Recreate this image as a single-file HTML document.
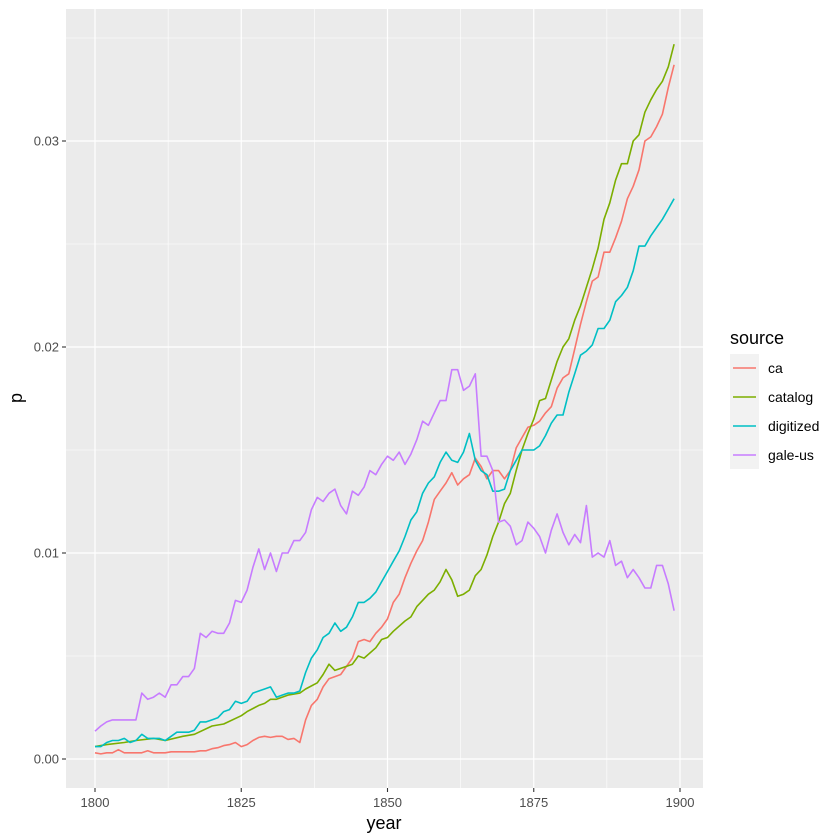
<!DOCTYPE html>
<html><head><meta charset="utf-8"><style>
body{margin:0;background:#fff;font-family:"Liberation Sans",sans-serif}
svg{display:block}
</style></head><body>
<svg id="chart" width="840" height="840" xmlns="http://www.w3.org/2000/svg">
<rect x="0" y="0" width="840" height="840" fill="#fff"/>
<rect x="66" y="9" width="637" height="779" fill="#ebebeb"/>
<g id="grid"></g><g id="series"></g><g id="axes"></g>
<text x="384" y="829" font-size="18" text-anchor="middle" fill="#000">year</text>
<text transform="translate(22,398) rotate(-90)" font-size="18" text-anchor="middle" fill="#000">p</text>
<g>
<text x="730" y="344" font-size="18" fill="#000">source</text>
<rect x="730" y="354" width="29" height="115" fill="#f2f2f2"/>
<g id="legend"></g>
</g>
</svg>
<script>
const xTicks=[1800,1825,1850,1875,1900];
const yTicks=[0,0.01,0.02,0.03];
const yTickLabels=["0.00","0.01","0.02","0.03"];
const seriesNames=["ca","catalog","digitized","gale-us"];
const seriesColors=["#F8766D","#7CAE00","#00BFC4","#C77CFF"];
const caYears=[1800,1801,1802,1803,1804,1805,1806,1807,1808,1809,1810,1811,1812,1813,1814,1815,1816,1817,1818,1819,1820,1821,1822,1823,1824,1825,1826,1827,1828,1829,1830,1831,1832,1833,1834,1835,1836,1837,1838,1839,1840,1841,1842,1843,1844,1845,1846,1847,1848,1849,1850,1851,1852,1853,1854,1855,1856,1857,1858,1859,1860,1861,1862,1863,1864,1865,1866,1867,1868,1869,1870,1871,1872,1873,1874,1875,1876,1877,1878,1879,1880,1881,1882,1883,1884,1885,1886,1887,1888,1889,1890,1891,1892,1893,1894,1895,1896,1897,1898,1899];
const caVals=[0.0003,0.00025,0.0003,0.0003,0.00045,0.0003,0.0003,0.0003,0.0003,0.0004,0.0003,0.0003,0.0003,0.00035,0.00035,0.00035,0.00035,0.00035,0.0004,0.0004,0.0005,0.00055,0.00065,0.0007,0.0008,0.0006,0.0007,0.0009,0.00105,0.0011,0.00105,0.0011,0.0011,0.00095,0.001,0.0008,0.0019,0.0026,0.0029,0.0035,0.0039,0.004,0.0041,0.0045,0.0049,0.0057,0.0058,0.0057,0.0061,0.0064,0.0068,0.0076,0.008,0.0088,0.0095,0.0101,0.0106,0.0115,0.0126,0.013,0.0134,0.0139,0.0133,0.0136,0.0138,0.0146,0.0142,0.0136,0.014,0.014,0.0136,0.014,0.0151,0.0156,0.0161,0.0162,0.0164,0.0168,0.0171,0.018,0.0185,0.0187,0.0199,0.0211,0.0222,0.0232,0.0234,0.0246,0.0246,0.0253,0.0261,0.0272,0.0278,0.0286,0.03,0.0302,0.0307,0.0313,0.0326,0.0337];
const catalogYears=[1800,1802,1805,1807,1810,1812,1815,1817,1820,1822,1825,1826,1828,1829,1830,1831,1833,1835,1836,1838,1839,1840,1841,1842,1844,1845,1846,1848,1849,1850,1851,1853,1854,1855,1856,1857,1858,1859,1860,1861,1862,1863,1864,1865,1866,1867,1868,1869,1870,1871,1872,1873,1874,1875,1876,1877,1878,1879,1880,1881,1882,1883,1884,1885,1886,1887,1888,1889,1890,1891,1892,1893,1894,1895,1896,1897,1898,1899];
const catalogVals=[0.0006,0.0007,0.0008,0.0009,0.001,0.0009,0.0011,0.0012,0.0016,0.0017,0.0021,0.0023,0.0026,0.0027,0.0029,0.0029,0.0031,0.0032,0.0034,0.0037,0.0041,0.0046,0.0043,0.0044,0.0046,0.005,0.0049,0.0054,0.0058,0.0059,0.0062,0.0067,0.0069,0.0074,0.0077,0.008,0.0082,0.0086,0.0092,0.0087,0.0079,0.008,0.0082,0.0089,0.0092,0.0099,0.0108,0.0115,0.0124,0.0129,0.014,0.015,0.0158,0.0165,0.0174,0.0175,0.0184,0.0193,0.02,0.0204,0.0213,0.022,0.0229,0.0238,0.0248,0.0262,0.027,0.0281,0.0289,0.0289,0.03,0.0303,0.0314,0.032,0.0325,0.0329,0.0336,0.0347];
const digitizedYears=[1800,1801,1802,1803,1804,1805,1806,1807,1808,1809,1810,1811,1812,1813,1814,1815,1816,1817,1818,1819,1820,1821,1822,1823,1824,1825,1826,1827,1828,1829,1830,1831,1832,1833,1834,1835,1836,1837,1838,1839,1840,1841,1842,1843,1844,1845,1846,1847,1848,1849,1850,1851,1852,1853,1854,1855,1856,1857,1858,1859,1860,1861,1862,1863,1864,1865,1866,1867,1868,1869,1870,1871,1872,1873,1874,1875,1876,1877,1878,1879,1880,1881,1882,1883,1884,1885,1886,1887,1888,1889,1890,1891,1892,1893,1894,1895,1896,1897,1898,1899];
const digitizedVals=[0.0006,0.0006,0.0008,0.0009,0.0009,0.001,0.0008,0.0009,0.0012,0.001,0.001,0.001,0.0009,0.0011,0.0013,0.0013,0.0013,0.0014,0.0018,0.0018,0.0019,0.002,0.0023,0.0024,0.0028,0.0027,0.0028,0.0032,0.0033,0.0034,0.0035,0.003,0.0031,0.0032,0.0032,0.0033,0.0042,0.0049,0.0053,0.0059,0.0061,0.0066,0.0062,0.0064,0.0069,0.0076,0.0076,0.0078,0.0081,0.0086,0.0091,0.0096,0.0101,0.0108,0.0116,0.012,0.0129,0.0134,0.0137,0.0144,0.0149,0.0145,0.0144,0.0149,0.0158,0.0145,0.014,0.0138,0.013,0.013,0.0131,0.014,0.0145,0.015,0.015,0.015,0.0152,0.0157,0.0163,0.0167,0.0167,0.0178,0.0187,0.0196,0.0198,0.0201,0.0209,0.0209,0.0213,0.0222,0.0225,0.0229,0.0237,0.0249,0.0249,0.0254,0.0258,0.0262,0.0267,0.0272];
const galeYears=[1800,1801,1802,1803,1804,1805,1806,1807,1808,1809,1810,1811,1812,1813,1814,1815,1816,1817,1818,1819,1820,1821,1822,1823,1824,1825,1826,1827,1828,1829,1830,1831,1832,1833,1834,1835,1836,1837,1838,1839,1840,1841,1842,1843,1844,1845,1846,1847,1848,1849,1850,1851,1852,1853,1854,1855,1856,1857,1858,1859,1860,1861,1862,1863,1864,1865,1866,1867,1868,1869,1870,1871,1872,1873,1874,1875,1876,1877,1878,1879,1880,1881,1882,1883,1884,1885,1886,1887,1888,1889,1890,1891,1892,1893,1894,1895,1896,1897,1898,1899];
const galeVals=[0.00135,0.0016,0.0018,0.0019,0.0019,0.0019,0.0019,0.0019,0.0032,0.0029,0.003,0.0032,0.003,0.0036,0.0036,0.004,0.004,0.0044,0.0061,0.0059,0.0062,0.0061,0.0061,0.0066,0.0077,0.0076,0.0082,0.0093,0.0102,0.0092,0.01,0.0091,0.01,0.01,0.0106,0.0106,0.011,0.0121,0.0127,0.0125,0.0129,0.0131,0.0123,0.0119,0.013,0.0128,0.0132,0.014,0.0138,0.0143,0.0147,0.0145,0.0149,0.0143,0.0148,0.0155,0.0164,0.0162,0.0168,0.0174,0.0174,0.0189,0.0189,0.0179,0.0181,0.0187,0.0147,0.0147,0.014,0.0115,0.0116,0.0113,0.0104,0.0106,0.0115,0.0112,0.0108,0.01,0.0111,0.0119,0.011,0.0104,0.0109,0.0105,0.0123,0.0098,0.01,0.0098,0.0106,0.0094,0.0096,0.0088,0.0092,0.0088,0.0083,0.0083,0.0094,0.0094,0.0085,0.0072];

const NS="http://www.w3.org/2000/svg";
const X=y=>95+(y-1800)*5.85;
const Y=v=>759-v*20600;
function mk(tag,attrs,parent){const e=document.createElementNS(NS,tag);for(const k in attrs)e.setAttribute(k,attrs[k]);parent.appendChild(e);return e;}
const grid=document.getElementById('grid'),axes=document.getElementById('axes'),ser=document.getElementById('series'),leg=document.getElementById('legend');
for(let i=0;i<xTicks.length-1;i++){const x=X((xTicks[i]+xTicks[i+1])/2);const l=mk('line',{x1:x,x2:x,y1:9,y2:788,stroke:'#fff','stroke-width':0.6},grid);

}
[-0.005,0.005,0.015,0.025,0.035].forEach(v=>{const y=Y(v);if(y<9||y>788)return;const l=mk('line',{x1:66,x2:703,y1:y,y2:y,stroke:'#fff','stroke-width':0.6},grid);

});
xTicks.forEach(t=>{const x=X(t);const l=mk('line',{x1:x,x2:x,y1:9,y2:788,stroke:'#fff','stroke-width':1.2},grid);


const tk=mk('line',{x1:x,x2:x,y1:788,y2:792,stroke:'#333','stroke-width':1.1},axes);


const tx=mk('text',{x:x,y:807,'font-size':13,'text-anchor':'middle',fill:'#4d4d4d'},axes);tx.textContent=t;

});
yTicks.forEach((t,i)=>{const y=Y(t);const l=mk('line',{x1:66,x2:703,y1:y,y2:y,stroke:'#fff','stroke-width':1.2},grid);


const tk=mk('line',{x1:62,x2:66,y1:y,y2:y,stroke:'#333','stroke-width':1.1},axes);


const tx=mk('text',{x:59,y:y+4.5,'font-size':13,'text-anchor':'end',fill:'#4d4d4d'},axes);tx.textContent=yTickLabels[i];

});
const data=[[caYears,caVals],[catalogYears,catalogVals],[digitizedYears,digitizedVals],[galeYears,galeVals]];
data.forEach((d,i)=>{const pts=d[0].map((yr,j)=>X(yr).toFixed(1)+','+Y(d[1][j]).toFixed(1)).join(' ');
const p=mk('polyline',{points:pts,fill:'none',stroke:seriesColors[i],'stroke-width':1.6,'stroke-linejoin':'round'},ser);


const cy=368+i*29;
const k=mk('line',{x1:733,x2:756,y1:cy,y2:cy,stroke:seriesColors[i],'stroke-width':1.6},leg);


const t=mk('text',{x:768,y:cy+5,'font-size':14,fill:'#000'},leg);t.textContent=seriesNames[i];

});
</script>
</body></html>
